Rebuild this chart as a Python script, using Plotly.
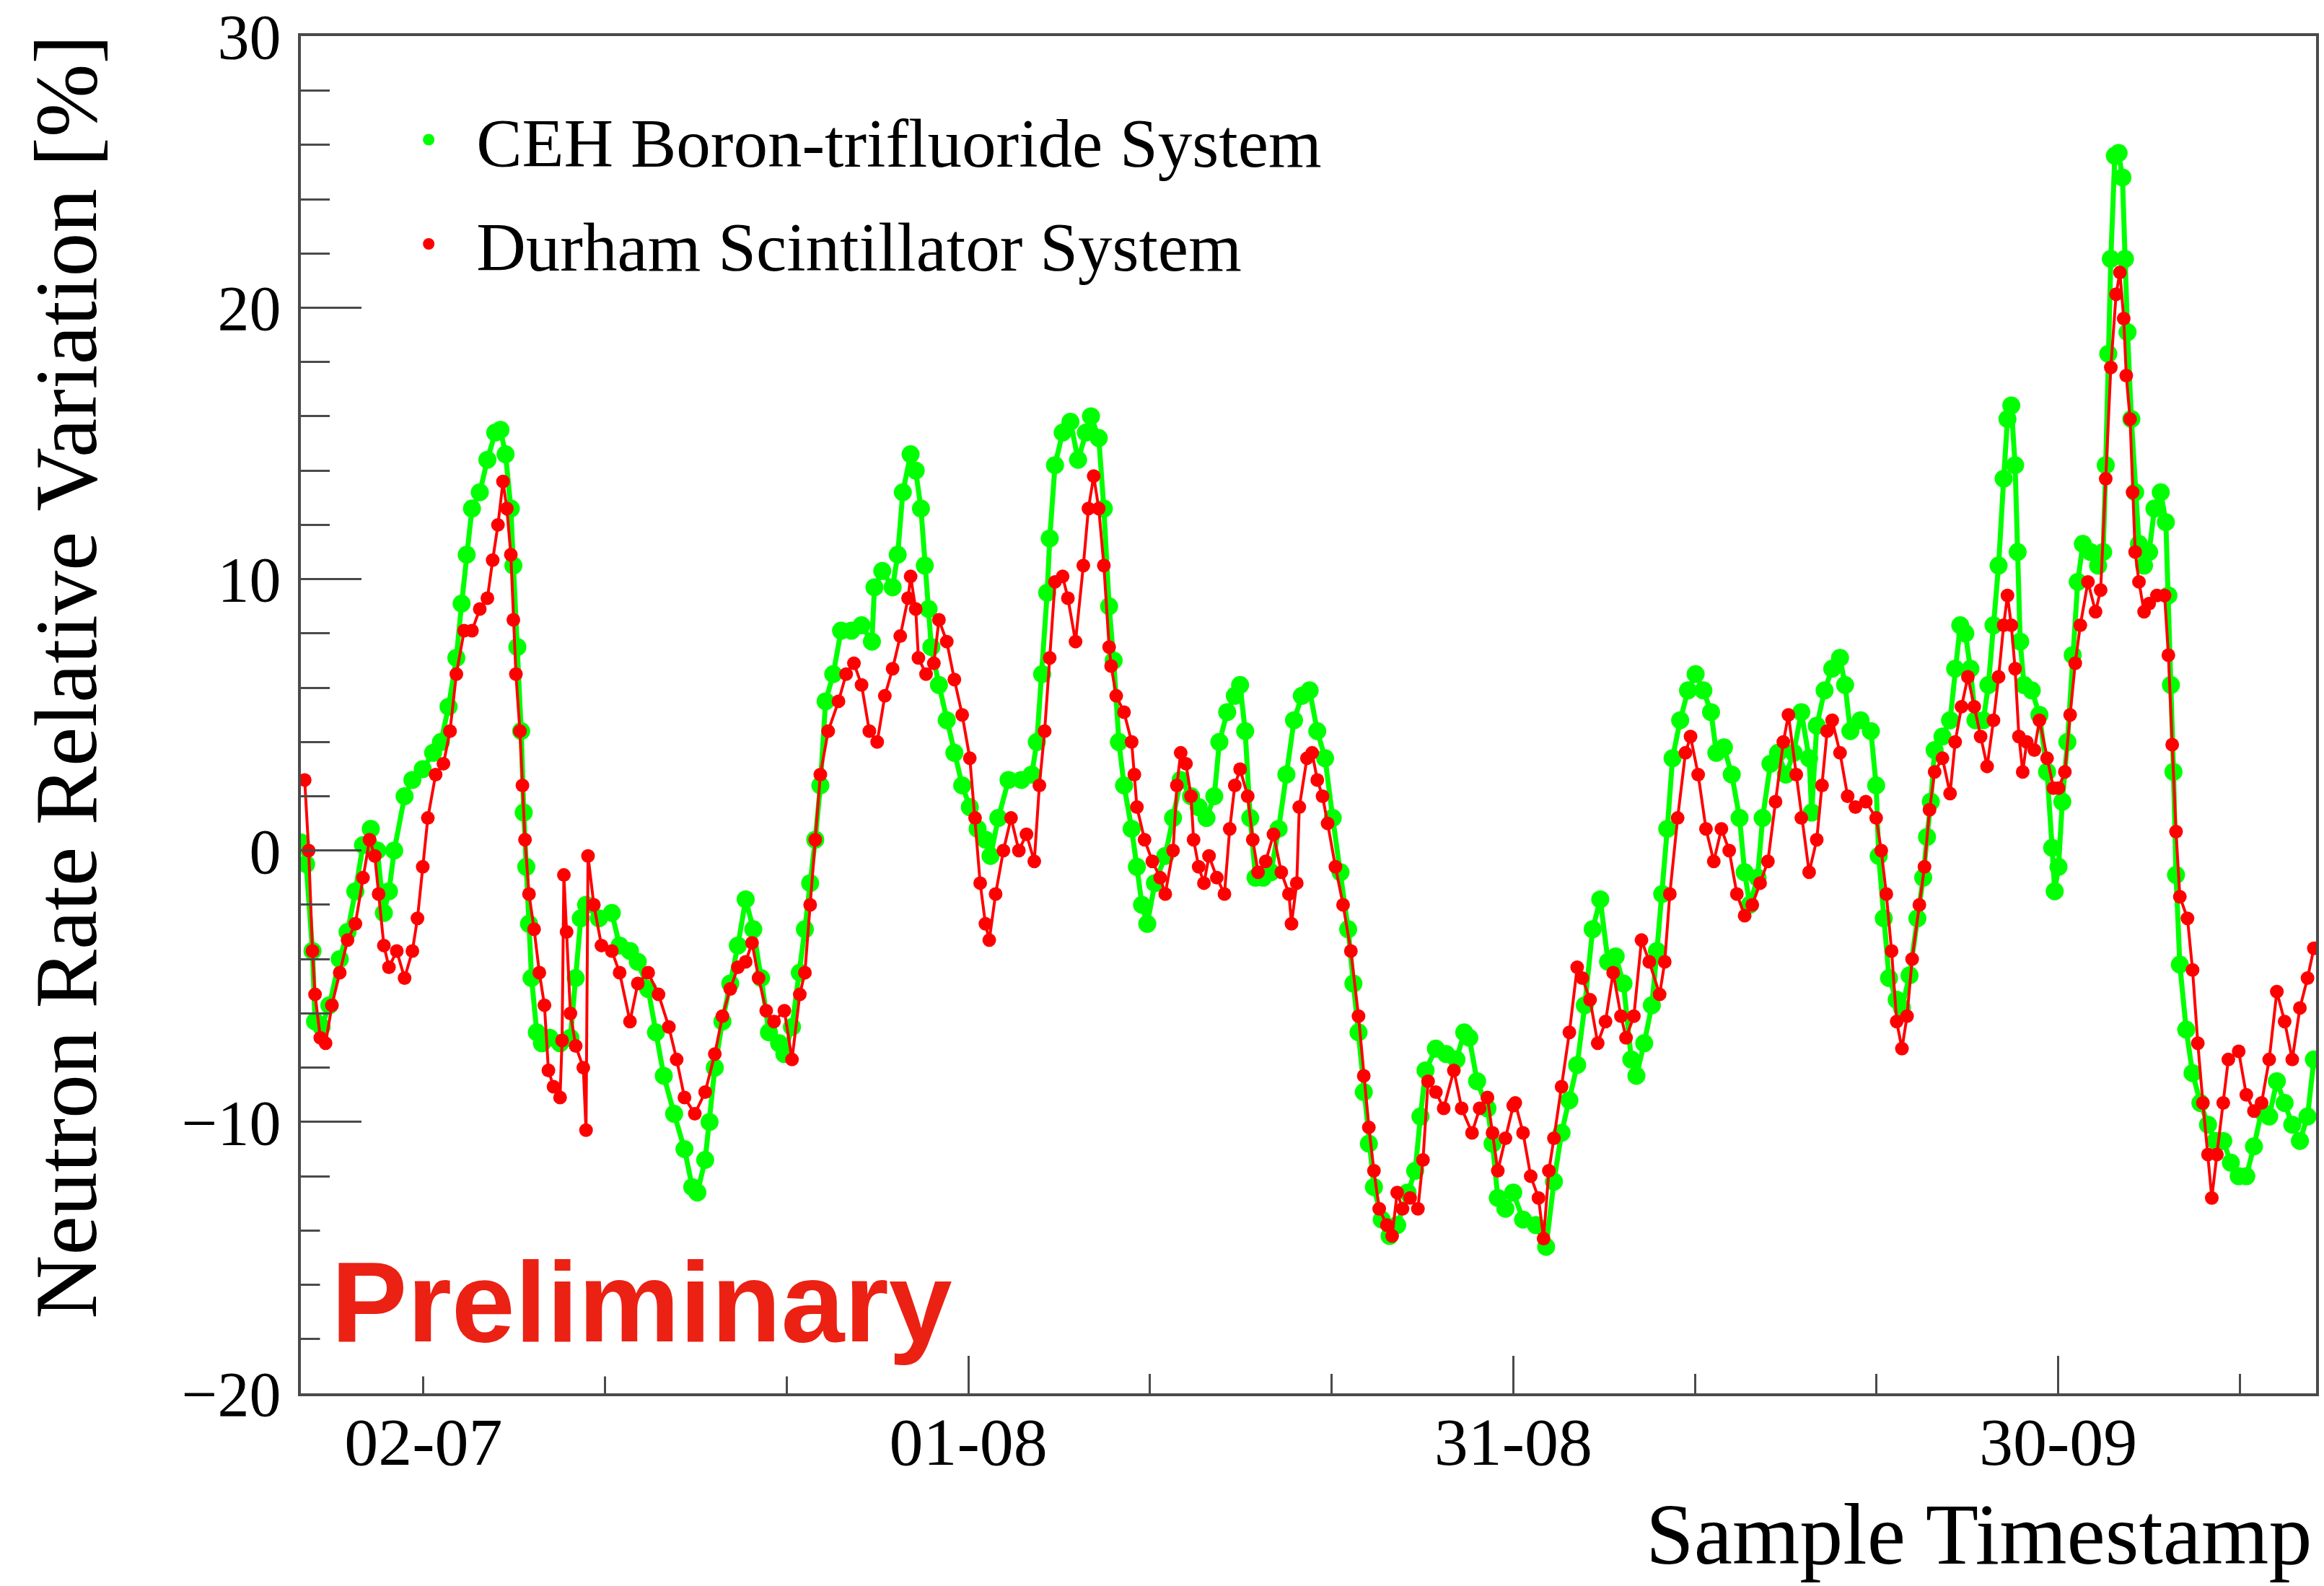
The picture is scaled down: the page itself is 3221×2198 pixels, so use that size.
import pandas as pd
import plotly.graph_objects as go

# ---------------- data ----------------
BASE_DATE = pd.Timestamp("2023-07-02")   # the "02-07" tick; x values are days after it

ceh_days = [
    -6.75, -6.46, -6.11, -5.97, -5.61, -5.18, -4.61, -4.18, -3.75, -3.33, -2.90, -2.54, -2.18, -1.90,
    -1.61, -1.04, -0.61, -0.04, 0.53, 0.96, 1.38, 1.81, 2.10, 2.38, 2.67, 3.10, 3.52, 3.95, 4.24, 4.52,
    4.81, 4.95, 5.17, 5.38, 5.52, 5.66, 5.81, 5.95, 6.24, 6.52, 6.95, 7.52, 8.09, 8.38, 8.66, 8.95, 9.66,
    10.37, 10.80, 11.37, 11.80, 12.37, 12.80, 13.23, 13.80, 14.37, 14.80, 15.08, 15.51,
    15.75, 16.04, 16.46, 16.89, 17.31, 17.74, 18.16, 18.59, 19.02, 19.58, 19.87, 20.29, 20.72, 21.00,
    21.29, 21.57, 21.85, 22.14, 22.56, 22.99, 23.56, 24.12, 24.69, 24.83, 25.26, 25.83, 26.11, 26.39,
    26.82, 27.10, 27.39, 27.60, 27.81, 27.96, 28.38, 28.81, 29.23, 29.66, 30.08, 30.51, 30.94, 31.22,
    31.65, 32.21, 32.92, 33.49, 33.77, 34.06, 34.34, 34.48, 34.77, 35.19, 35.62, 36.04, 36.47, 36.75,
    37.18, 37.46, 37.75,
    38.00, 38.29, 38.57, 38.99, 39.28, 39.56, 39.85, 40.27, 40.84, 41.27, 41.69, 42.26, 42.68, 43.11,
    43.54, 43.82, 44.25, 44.67, 44.96, 45.24, 45.52, 45.81, 46.23, 46.66, 47.08, 47.51, 47.93, 48.36,
    48.79, 49.21, 49.64, 50.06, 50.49, 50.91, 51.20, 51.48, 51.77, 52.05, 52.33, 52.76, 53.19, 53.61,
    54.18, 54.60, 54.89, 55.17, 55.74, 56.31, 56.87, 57.30, 57.58, 58.01, 58.58, 58.86, 59.15, 59.57,
    60.00,
    60.54, 61.25, 61.81, 62.24, 62.66, 63.09, 63.52, 63.94, 64.37, 64.79, 65.22, 65.64, 66.07, 66.50,
    66.78, 67.21, 67.63, 67.91, 68.20, 68.48, 68.77, 69.19, 69.62, 70.04, 70.47, 70.89, 71.18, 71.60,
    72.03, 72.46, 72.74, 73.02, 73.45, 73.73, 74.16, 74.58, 75.01, 75.44, 75.86, 76.29, 76.43, 76.71,
    77.14, 77.56, 77.99, 78.27, 78.56, 79.12, 79.69, 79.98, 80.12, 80.40, 80.69, 81.11, 81.40, 81.82,
    82.25,
    82.57, 82.78, 82.99, 83.20, 83.63, 84.05, 84.33, 84.61, 84.89, 85.17, 85.45, 85.88, 86.16, 86.44,
    86.72, 87.00, 87.21, 87.42, 87.63, 87.77, 87.91, 88.12, 88.55, 88.97, 89.39, 89.67, 89.81, 90.02,
    90.23, 90.51, 90.80, 91.08, 91.36, 91.78, 92.20, 92.48, 92.62, 92.76, 92.90, 93.12, 93.33, 93.54,
    93.68, 93.82, 94.03, 94.24, 94.45, 94.73, 95.01, 95.30, 95.65, 95.93, 96.07, 96.21, 96.35, 96.49,
    96.70, 97.05, 97.40, 97.83, 98.25, 98.67, 99.09, 99.51, 99.94, 100.36, 100.78, 101.20, 101.62,
    102.04, 102.47, 102.89, 103.31, 103.73, 104.08,
]
ceh_values = [
    0.3, -0.5, -3.7, -6.3, -6.5, -5.7, -4.0, -3.0, -1.5, 0.2, 0.8, 0.0, -2.3, -1.5,
    0.0, 2.0, 2.6, 3.0, 3.6, 4.0, 5.3, 7.1, 9.1, 10.9, 12.6, 13.2, 14.4, 15.4, 15.5, 14.6,
    12.6, 10.5, 7.5, 4.4, 1.4, -0.6, -2.7, -4.7, -6.7, -7.1, -6.9, -7.1, -6.9, -4.7, -2.5, -2.0, -2.5,
    -2.3, -3.5, -3.7, -4.1, -5.1, -6.7, -8.3, -9.7, -11.0, -12.4, -12.6, -11.4,
    -10.0, -8.0, -6.3, -4.9, -3.5, -1.8, -2.9, -4.7, -6.7, -7.1, -7.5, -6.5, -4.5, -2.9,
    -1.2, 0.4, 2.4, 5.5, 6.5, 8.1, 8.1, 8.3, 7.7, 9.7, 10.3, 9.7, 10.9, 13.2,
    14.6, 14.0, 12.6, 10.5, 8.9, 7.5, 6.1, 4.8, 3.6, 2.4, 1.6, 0.8, 0.4, -0.2,
    1.2, 2.6, 2.6, 2.8, 4.0, 6.5, 9.5, 11.5, 14.2, 15.4, 15.8, 14.4, 15.4, 16.0,
    15.2, 12.6, 9.0,
    7.0, 4.0, 2.4, 0.8, -0.6, -2.0, -2.7, -1.2, -0.2, 1.2, 2.6, 2.0, 1.6, 1.2,
    2.0, 4.0, 5.1, 5.7, 6.1, 4.4, 1.2, -1.0, -1.0, -0.8, 0.8, 2.8, 4.8, 5.7,
    5.9, 4.4, 3.4, 1.2, -0.8, -2.9, -4.9, -6.7, -8.9, -10.8, -12.4, -13.6, -14.2, -13.8,
    -12.6, -11.8, -9.8, -8.1, -7.3, -7.5, -7.7, -6.7, -6.9, -8.5, -9.5, -10.8, -12.8, -13.2,
    -12.6,
    -13.6, -13.8, -14.6, -12.2, -10.4, -9.2, -7.9, -5.7, -2.9, -1.8, -4.1, -3.9, -4.9, -7.7,
    -8.3, -7.1, -5.7, -3.7, -1.6, 0.8, 3.4, 4.8, 5.9, 6.5, 5.9, 5.1, 3.6, 3.8,
    2.8, 1.2, -0.8, -2.0, -1.0, 1.2, 3.2, 3.6, 2.8, 3.6, 5.1, 3.4, 1.4, 4.6,
    5.9, 6.7, 7.1, 6.1, 4.4, 4.8, 4.4, 2.4, -0.2, -2.5, -4.7, -5.5, -5.8, -4.6,
    -2.5,
    -1.0, 0.5, 1.8, 3.7, 4.2, 4.8, 6.7, 8.3, 8.0, 6.7, 4.8, 4.8, 6.1, 8.3,
    10.5, 13.7, 15.9, 16.4, 14.2, 11.0, 7.7, 6.1, 5.9, 5.0, 2.9, 0.1, -1.5, -0.6,
    1.8, 4.0, 7.2, 9.9, 11.3, 11.0, 10.5, 11.0, 14.2, 18.3, 21.8, 25.6, 25.7, 24.8,
    21.8, 19.1, 15.9, 13.2, 11.3, 10.5, 11.0, 12.6, 13.2, 12.1, 9.4, 6.1, 2.9, -0.9,
    -4.2, -6.6, -8.2, -9.3, -10.1, -10.7, -10.7, -11.5, -12.0, -12.0, -10.9, -9.6, -9.8,
    -8.5, -9.3, -10.1, -10.7, -9.8, -7.7,
]

durham_days = [
    -6.54, -6.32, -6.11, -5.97, -5.68, -5.39, -5.04, -4.61, -4.18, -3.75, -3.33, -2.97, -2.68, -2.47,
    -2.18, -1.90, -1.47, -1.04, -0.61, -0.33, -0.04, 0.24, 0.67, 1.10, 1.46, 1.81, 2.24, 2.67, 3.10,
    3.52, 3.81, 4.10, 4.38, 4.59, 4.81, 4.95, 5.09, 5.31, 5.45, 5.59, 5.81, 6.09, 6.38, 6.66, 6.88,
    7.16, 7.52, 7.63, 7.73, 7.88, 8.09, 8.38, 8.80, 8.95, 9.06, 9.38, 9.80, 10.37, 10.80, 11.37, 11.80,
    12.37, 12.94, 13.51, 13.94, 14.37, 14.94, 15.51,
    16.04, 16.46, 16.89, 17.31, 17.74, 18.09, 18.45, 18.87, 19.30, 19.87, 20.29, 20.72, 21.00, 21.29,
    21.57, 21.85, 22.28, 22.85, 23.27, 23.70, 24.12, 24.55, 24.98, 25.40, 25.83, 26.25, 26.68, 26.82,
    27.10, 27.25, 27.67, 28.10, 28.38, 28.81, 29.23, 29.66, 30.08, 30.37, 30.65, 30.94, 31.15, 31.50,
    31.93, 32.35, 32.78, 33.20, 33.63, 33.91, 34.20, 34.48, 34.77, 35.19, 35.48, 35.90, 36.33, 36.61,
    36.90, 37.18, 37.46, 37.75,
    37.86, 38.14, 38.57, 38.99, 39.14, 39.28, 39.70, 40.13, 40.56, 40.84, 41.27, 41.48, 41.69, 41.98,
    42.26, 42.40, 42.68, 42.97, 43.25, 43.68, 44.10, 44.39, 44.67, 44.96, 45.38, 45.66, 45.95, 46.37,
    46.80, 47.23, 47.65, 47.79, 48.08, 48.22, 48.64, 48.93, 49.21, 49.50, 49.78, 50.21, 50.63, 51.06,
    51.48, 51.77, 52.05, 52.33, 52.62, 53.04, 53.33, 53.61, 53.90, 54.32, 54.75, 55.03, 55.31, 55.74,
    56.17, 56.73, 57.16, 57.73, 58.15, 58.58, 58.86, 59.15, 59.57, 60.00,
    60.11, 60.54, 60.96, 61.39, 61.67, 61.96, 62.24, 62.66, 63.09, 63.52, 63.80, 64.23, 64.65, 65.08,
    65.50, 65.93, 66.21, 66.64, 67.06, 67.49, 68.06, 68.34, 68.62, 69.05, 69.48, 69.76, 70.18, 70.61,
    71.04, 71.46, 71.89, 72.31, 72.74, 73.16, 73.59, 74.02, 74.44, 74.87, 75.15, 75.58, 75.86, 76.29,
    76.71, 77.00, 77.28, 77.56, 77.99, 78.41, 78.84, 79.41, 79.98, 80.26, 80.54, 80.83, 81.11, 81.40,
    81.68, 81.96,
    82.36, 82.64, 82.92, 83.20, 83.63, 84.05, 84.33, 84.68, 85.03, 85.38, 85.73, 86.09, 86.44, 86.72,
    87.00, 87.21, 87.42, 87.63, 87.84, 88.05, 88.27, 88.69, 88.97, 89.39, 89.74, 90.02, 90.37, 90.66,
    90.94, 91.22, 91.64, 92.06, 92.34, 92.62, 92.90, 93.19, 93.40, 93.61, 93.75, 93.96, 94.10, 94.24,
    94.45, 94.73, 95.01, 95.44, 95.86, 96.07, 96.28, 96.49, 96.70, 97.12, 97.40, 97.69, 97.97, 98.25,
    98.46, 98.74, 99.09, 99.37, 99.94, 100.36, 100.78, 101.20, 101.62, 102.04, 102.47, 102.89, 103.31,
    103.73, 104.08,
]
durham_values = [
    2.6, 0.0, -3.7, -5.3, -6.9, -7.1, -5.7, -4.5, -3.3, -2.7, -1.0, 0.4, -0.2, -1.6,
    -3.5, -4.3, -3.7, -4.7, -3.7, -2.5, -0.6, 1.2, 2.8, 3.2, 4.4, 6.5, 8.1, 8.1, 8.9,
    9.3, 10.7, 12.0, 13.6, 12.6, 10.9, 8.5, 6.5, 4.4, 2.4, 0.4, -1.6, -2.9, -4.5, -5.7, -8.1,
    -8.7, -9.1, -7.0, -0.9, -3.0, -6.0, -7.2, -8.0, -10.3, -0.2, -2.0, -3.5, -3.7, -4.5, -6.3, -4.9,
    -4.5, -5.3, -6.5, -7.7, -9.1, -9.7, -8.9,
    -7.5, -6.1, -5.1, -4.3, -4.1, -3.4, -4.7, -5.9, -6.3, -5.9, -7.7, -5.3, -4.5, -2.0,
    0.4, 2.8, 4.4, 5.5, 6.5, 6.9, 6.1, 4.4, 4.0, 5.7, 6.7, 7.9, 9.3, 10.1,
    8.9, 7.1, 6.5, 6.9, 8.5, 7.7, 6.3, 5.0, 3.4, 1.2, -1.2, -2.7, -3.3, -1.6,
    0.0, 1.2, 0.0, 0.6, -0.4, 2.4, 4.4, 7.1, 9.9, 10.1, 9.3, 7.7, 10.5, 12.6,
    13.8, 12.6, 10.5, 7.5,
    6.8, 5.7, 5.1, 4.0, 2.8, 1.6, 0.4, -0.4, -1.0, -1.6, 0.0, 2.4, 3.6, 3.2,
    2.0, 0.4, -0.6, -1.2, -0.2, -1.0, -1.6, 0.8, 2.4, 3.0, 2.0, 0.4, -0.8, -0.4,
    0.6, -0.8, -1.6, -2.7, -1.2, 1.6, 3.4, 3.6, 2.6, 2.0, 1.0, -0.6, -2.0, -3.7,
    -6.1, -8.3, -10.2, -11.8, -13.2, -13.8, -14.2, -12.6, -13.2, -12.8, -13.2, -11.4, -8.5, -8.9,
    -9.5, -8.1, -9.5, -10.4, -9.5, -9.1, -10.4, -11.8, -10.6, -9.4,
    -9.3, -10.4, -12.0, -12.8, -14.3, -11.8, -10.6, -8.7, -6.7, -4.3, -4.7, -5.5, -7.1, -6.3,
    -4.5, -6.1, -6.9, -6.1, -3.3, -4.1, -5.3, -4.1, -1.6, 1.2, 3.6, 4.2, 2.8, 0.8,
    -0.4, 0.8, 0.0, -1.6, -2.4, -2.0, -1.2, -0.4, 1.8, 4.0, 5.0, 2.8, 1.2, -0.8,
    0.4, 2.4, 4.4, 4.8, 3.6, 2.0, 1.6, 1.8, 1.2, 0.0, -1.6, -3.7, -6.3, -7.3,
    -6.1, -4.0,
    -2.0, -0.6, 1.5, 2.9, 3.4, 2.1, 4.0, 5.3, 6.4, 5.3, 4.2, 3.1, 4.8, 6.4,
    8.3, 9.4, 8.3, 6.7, 4.2, 2.9, 4.0, 3.7, 4.8, 3.4, 2.3, 2.3, 2.9, 5.0,
    6.9, 8.3, 9.9, 8.8, 9.6, 13.7, 17.8, 20.5, 21.3, 19.6, 17.5, 15.9, 13.2, 11.0,
    9.9, 8.8, 9.1, 9.4, 9.4, 7.2, 3.9, 0.7, -1.7, -2.5, -4.4, -7.1, -9.3, -11.2,
    -12.8, -11.2, -9.3, -7.7, -7.4, -9.0, -9.6, -9.3, -7.7, -5.2, -6.3, -7.7, -5.8,
    -4.7, -3.6,
]

x_tick_dates = ["2023-07-02", "2023-08-01", "2023-08-31", "2023-09-30"]
x_tick_labels = ["02-07", "01-08", "31-08", "30-09"]
y_tick_values = [-20, -10, 0, 10, 20, 30]

series_names = ["CEH Boron-trifluoride System", "Durham Scintillator System"]
series_colors = ["#00FF00", "#FF0000"]

# ---------------- figure ----------------
SERIF = "Liberation Serif, Times New Roman, serif"
SANS = "Liberation Sans, Arial, sans-serif"
AXIS_COLOR = "#4a4a4a"


def to_dates(days):
    return [BASE_DATE + pd.Timedelta(days=d) for d in days]


fig = go.Figure()

fig.add_trace(go.Scatter(
    x=to_dates(ceh_days), y=ceh_values, mode="lines+markers", name=series_names[0],
    line=dict(color=series_colors[0], width=7),
    marker=dict(color=series_colors[0], size=25), showlegend=False,
))
fig.add_trace(go.Scatter(
    x=to_dates(durham_days), y=durham_values, mode="lines+markers", name=series_names[1],
    line=dict(color=series_colors[1], width=4),
    marker=dict(color=series_colors[1], size=19), showlegend=False,
))
# legend entries (markers only, like the reference legend)
for name, color, grp in zip(series_names, series_colors, ["ceh", "durham"]):
    fig.add_trace(go.Scatter(
        x=[None], y=[None], mode="markers", name=name, legendgroup=grp,
        marker=dict(color=color, size=16), showlegend=True,
    ))

x_start = BASE_DATE - pd.Timedelta(days=6.75)
x_end = BASE_DATE + pd.Timedelta(days=104.2)

fig.update_layout(
    width=3221, height=2198,
    margin=dict(l=417, r=11, t=50, b=267, pad=0, autoexpand=False),
    paper_bgcolor="white", plot_bgcolor="white",
    font=dict(family=SERIF, color="black"),
    xaxis=dict(
        type="date", range=[x_start, x_end], automargin=False,
        tickmode="array", tickvals=x_tick_dates, ticktext=x_tick_labels,
        ticks="inside", ticklen=52, tickwidth=3, tickcolor=AXIS_COLOR,
        minor=dict(tickmode="linear", tick0="2023-07-02", dtick=864000000,
                   ticks="inside", ticklen=27, tickwidth=3, tickcolor=AXIS_COLOR, showgrid=False),
        showline=True, linewidth=4, linecolor=AXIS_COLOR, mirror=True,
        showgrid=False, zeroline=False,
        tickfont=dict(family=SERIF, size=94, color="black"),
        ticklabelstandoff=-18,
    ),
    yaxis=dict(
        range=[-20, 30.01], tickmode="array", tickvals=y_tick_values, automargin=False,
        ticks="inside", ticklen=84, tickwidth=3, tickcolor=AXIS_COLOR,
        minor=dict(tickmode="linear", tick0=-20, dtick=2,
                   ticks="inside", ticklen=40, tickwidth=3, tickcolor=AXIS_COLOR, showgrid=False),
        showline=True, linewidth=4, linecolor=AXIS_COLOR, mirror=True,
        showgrid=False, zeroline=False,
        tickfont=dict(family=SERIF, size=88, color="black"),
        ticklabelstandoff=6, ticklabeloverflow="allow",
    ),
    legend=dict(
        x=0.0398, xanchor="left", y=0.9600, yanchor="top",
        font=dict(family=SERIF, size=95, color="black"),
        bgcolor="rgba(0,0,0,0)", borderwidth=0,
        itemwidth=122, tracegroupgap=18, traceorder="grouped", itemsizing="trace",
    ),
    showlegend=True,
    annotations=[
        dict(text="Neutron Rate Relative Variation [%]", textangle=-90,
             xref="paper", yref="paper", x=-0.1164, y=0.528,
             xanchor="center", yanchor="middle", showarrow=False,
             font=dict(family=SERIF, size=122, color="black")),
        dict(text="Sample Timestamp",
             xref="paper", yref="paper", x=0.9986, y=-0.1039,
             xanchor="right", yanchor="middle", showarrow=False,
             font=dict(family=SERIF, size=120, color="black")),
        dict(text="Preliminary",
             xref="paper", yref="paper", x=0.0093, y=0.0673,
             xanchor="left", yanchor="middle", showarrow=False,
             bgcolor="white", borderpad=15,
             font=dict(family=SANS, size=158, color="#EB2114", weight="bold")),
    ],
)

fig.write_html(
    "out.html",
    post_script="document.body.style.margin='0';document.body.style.overflow='hidden';",
)
